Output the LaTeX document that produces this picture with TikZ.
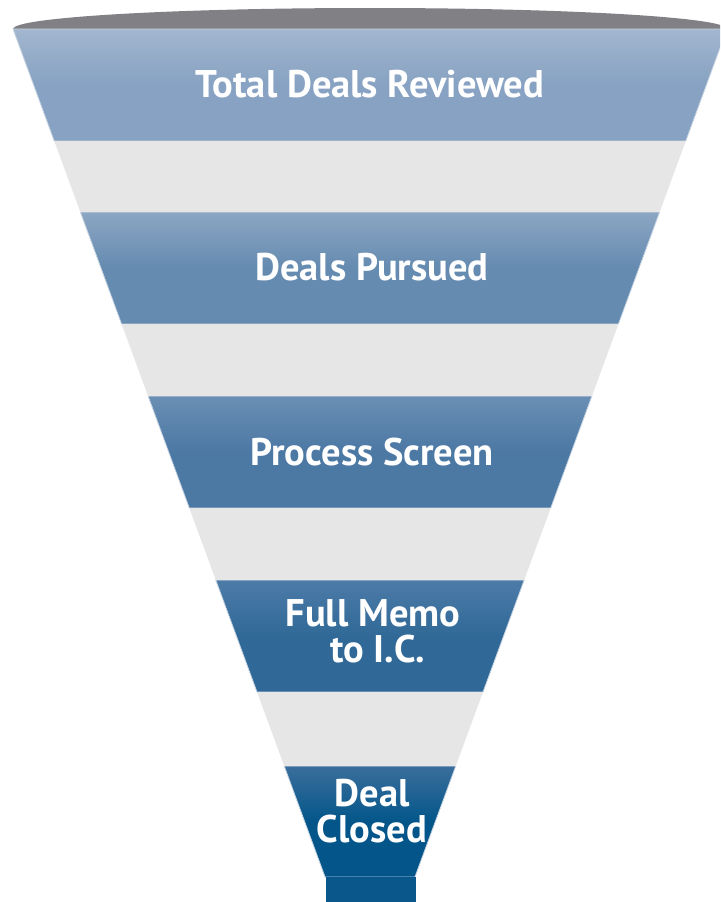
\documentclass[tikz,border=0pt]{standalone}
\usepackage{fontspec}
\setmainfont{PT Sans}
\definecolor{rimgray}{HTML}{808085}
\definecolor{gapgray}{HTML}{E6E6E6}
\definecolor{edgeblue}{HTML}{C9D5E2}
\definecolor{bandAtop}{HTML}{A2B6CF}
\definecolor{bandAbot}{HTML}{87A2C2}
\definecolor{bandBtop}{HTML}{8CA6C3}
\definecolor{bandBbot}{HTML}{658BB0}
\definecolor{bandCtop}{HTML}{6A8FB4}
\definecolor{bandCbot}{HTML}{4C78A4}
\definecolor{bandDtop}{HTML}{4D7BA8}
\definecolor{bandDbot}{HTML}{306997}
\definecolor{bandEtop}{HTML}{3A6E9C}
\definecolor{bandEbot}{HTML}{04568A}
\definecolor{spoutblue}{HTML}{0A578B}

\begin{document}
\begin{tikzpicture}[x=1pt,y=-1pt,
  stage/.style={text=white, font=\bfseries\fontsize{38.5}{36}\selectfont, align=center, inner sep=0pt}]

\useasboundingbox (0,0) rectangle (720,902);
\clip (0,0) rectangle (720,902);

% rim of the funnel
\fill[rimgray] (13,29) arc[start angle=180, end angle=360, x radius=357, y radius=21] -- cycle;

% blue stages
\foreach \a/\b/\ca/\cb in {29/141/bandAtop/bandAbot, 212/324/bandBtop/bandBbot,
    396/508/bandCtop/bandCbot, 580/692/bandDtop/bandDbot, 766/877/bandEtop/bandEbot}
  \shade[top color=\ca, bottom color=\cb, middle color=\cb, draw=edgeblue, line width=.8pt]
    ({370-(357-0.368*(\a-29))},\a) -- ({370+(357-0.368*(\a-29))},\a)
    -- ({370+(357-0.368*(\b-29))},\b) -- ({370-(357-0.368*(\b-29))},\b) -- cycle;

% gray gaps
\foreach \a/\b in {141/212, 324/396, 508/580, 692/766}
  \fill[gapgray]
    ({370-(357-0.368*(\a-29))},\a) -- ({370+(357-0.368*(\a-29))},\a)
    -- ({370+(357-0.368*(\b-29))},\b) -- ({370-(357-0.368*(\b-29))},\b) -- cycle;

% spout
\fill[spoutblue] (326,877) rectangle (416,902);

\node[stage] (total) at (370,84) {Total Deals Reviewed};
\node[stage] (pursued) at (372,267) {Deals Pursued};
\node[stage] (screen) at (372,452) {Process Screen};
\node[stage] (memo) at (373,631) {Full Memo\\\ to I.C.};
\node[stage] (closed) at (372,811) {Deal\\Closed};
\end{tikzpicture}
\end{document}
